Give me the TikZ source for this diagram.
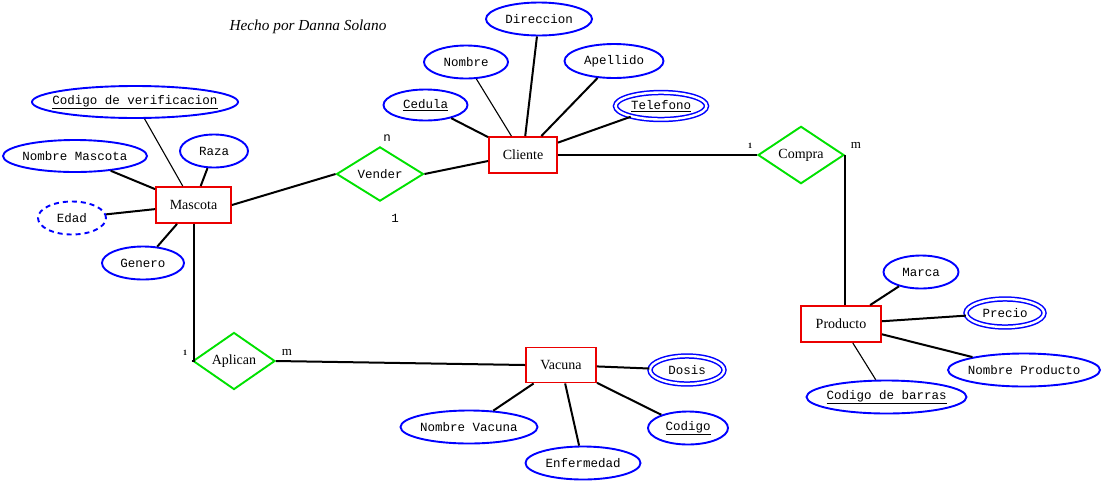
\documentclass[tikz,border=0pt]{standalone}
\usepackage{fontspec}
\setmainfont{Liberation Serif}
\newfontfamily\monof{Liberation Mono}
\usetikzlibrary{shapes.geometric}
\definecolor{eblue}{RGB}{0,0,255}
\definecolor{ered}{RGB}{235,0,0}
\definecolor{egreen}{RGB}{0,225,0}
\tikzset{
  attrtext/.style={font=\monof\fontsize{12.5}{14}\selectfont,inner sep=0pt},
  attr/.style n args={3}{ellipse,draw=eblue,line width=1.9pt,inner sep=0pt,
    minimum width=#1,minimum height=#2,label={[attrtext]center:#3}},
  mattr/.style={double=white,double distance=2.4pt,line width=1.5pt},
  ent/.style={rectangle,draw=ered,line width=1.9pt,inner sep=0pt,font=\fontsize{14}{16}\selectfont},
  rel/.style={diamond,draw=egreen,line width=1.9pt,inner sep=0pt,font=\fontsize{14}{16}\selectfont},
  thk/.style={draw=black,line width=2pt},
  thn/.style={draw=black,line width=1.1pt},
  card/.style={font=\monof\fontsize{12.5}{14}\selectfont,inner sep=0pt},
  cardm/.style={font=\fontsize{13}{14}\selectfont,inner sep=0pt},
  cardb/.style={font=\bfseries\fontsize{8}{9}\selectfont,inner sep=0pt}
}
\begin{document}
\begin{tikzpicture}[x=1pt,y=-1pt]
\fill[white] (0,0) rectangle (1105,483);
\useasboundingbox (0,0) rectangle (1105,483);

\node[font=\itshape\fontsize{15.3}{17}\selectfont] (title) at (308,27) {Hecho por Danna Solano};

% entities
\node[ent,minimum width=75pt,minimum height=36pt] (mascota) at (193.5,205) {Mascota};
\node[ent,minimum width=68pt,minimum height=36pt] (cliente) at (523,155) {Cliente};
\node[ent,minimum width=80pt,minimum height=36pt] (producto) at (841,324) {Producto};
\node[ent,minimum width=70pt,minimum height=35pt] (vacuna) at (561,365) {Vacuna};

% relationships
\node[rel,minimum width=87pt,minimum height=52pt] (vender) at (380,174) {\monof\fontsize{12.5}{14}\selectfont Vender};
\node[rel,minimum width=86pt,minimum height=52pt] (compra) at (801,155) {Compra};
\node[rel,minimum width=82pt,minimum height=50pt] (aplican) at (234,361) {Aplican};

% attributes
\node[attr={206pt}{32pt}{\underline{Codigo de verificacion}}] (codver) at (135,102) {};
\node[attr={144pt}{32pt}{Nombre Mascota}] (nommasc) at (75,156) {};
\node[attr={68pt}{33pt}{Raza}] (raza) at (214,151) {};
\node[attr={68pt}{33pt}{Edad},dashed,dash pattern=on 5pt off 4pt] (edad) at (72,218) {};
\node[attr={82pt}{33pt}{Genero}] (genero) at (143,263) {};

\node[attr={84pt}{31pt}{\underline{Cedula}}] (cedula) at (425.5,105) {};
\node[attr={84pt}{33pt}{Nombre}] (nombre) at (466,62) {};
\node[attr={106pt}{33pt}{Direccion}] (direccion) at (539,19) {};
\node[attr={99pt}{34pt}{Apellido}] (apellido) at (614,61) {};
\node[attr={91pt}{27pt}{\underline{Telefono}},mattr] (telefono) at (661,106) {};

\node[attr={75pt}{33pt}{Marca}] (marca) at (921,272) {};
\node[attr={78pt}{28pt}{Precio},mattr] (precio) at (1005,313) {};
\node[attr={152pt}{33pt}{Nombre Producto}] (nomprod) at (1024,370) {};
\node[attr={160pt}{33pt}{\underline{Codigo de barras}}] (codbarras) at (886.5,397) {};

\node[attr={74pt}{28pt}{Dosis},mattr] (dosis) at (687,370) {};
\node[attr={137pt}{33pt}{Nombre Vacuna}] (nomvac) at (469,427) {};
\node[attr={115pt}{33pt}{Enfermedad}] (enfermedad) at (583,463) {};
\node[attr={80pt}{33pt}{\underline{Codigo}}] (codigo) at (688,428) {};

% connectors - Mascota
\draw[thn] (codver) -- (mascota);
\draw[thk] (nommasc) -- (mascota);
\draw[thk] (raza) -- (mascota);
\draw[thk] (edad) -- (mascota);
\draw[thk] (genero) -- (mascota);
\draw[thk] (mascota.east) -- (vender.west);
\draw[thk] (vender.east) -- ([yshift=-6pt]cliente.west);
\draw[thk] (mascota.south) -- (mascota.south |- aplican.west) -- (aplican.west);
\draw[thk] (aplican.east) -- (vacuna.west);

% Cliente
\draw[thk] (cedula) -- (cliente);
\draw[thn] (nombre) -- (cliente);
\draw[thk] (direccion) -- (cliente);
\draw[thk] (apellido) -- (cliente);
\draw[thk] (telefono) -- (cliente);
\draw[thk] (cliente.east) -- (compra.west);
\draw[thk] (compra.east) -- (compra.east |- producto.north);

% Producto
\draw[thk] (marca) -- (producto);
\draw[thk] (precio) -- (producto);
\draw[thk] (nomprod) -- (producto);
\draw[thn] (codbarras) -- (producto);

% Vacuna
\draw[thk] (dosis) -- (vacuna);
\draw[thk] (nomvac) -- (vacuna);
\draw[thk] (enfermedad) -- (vacuna);
\draw[thk] (codigo) -- (vacuna);

% cardinalities
\node[card] (cn) at (387,138) {n};
\node[card] (c1v) at (395,218) {1};
\node[cardb] (c1c) at (750,146) {1};
\node[cardm] (cmc) at (856,145) {m};
\node[cardb] (c1a) at (185,353) {1};
\node[cardm] (cma) at (287,352) {m};
\end{tikzpicture}
\end{document}
